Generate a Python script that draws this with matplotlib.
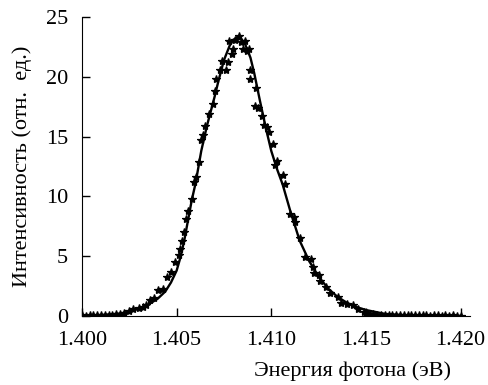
import numpy as np
import matplotlib
matplotlib.use("Agg")
import matplotlib.pyplot as plt

# fitted curve
fit_x = [1.4000, 1.4010, 1.4020, 1.4025, 1.4030, 1.4035, 1.4040, 1.4044, 1.4047,
         1.4050, 1.4052, 1.4054, 1.4056, 1.4058, 1.4060, 1.4063, 1.4066, 1.4070,
         1.4072, 1.4075, 1.4078, 1.4080, 1.4082, 1.4084, 1.4086, 1.4089, 1.4091,
         1.4094, 1.4097, 1.4100, 1.4103, 1.4106, 1.4110, 1.4115, 1.4120, 1.4125,
         1.4130, 1.4135, 1.4140, 1.4145, 1.4150, 1.4160, 1.4170, 1.4180, 1.4200]
fit_y = [0.02, 0.08, 0.20, 0.36, 0.60, 0.95, 1.45, 2.05, 2.80,
         3.80, 4.90, 6.30, 8.00, 9.70, 11.10, 13.80, 15.90, 18.30,
         19.60, 21.40, 22.60, 23.10, 23.30, 23.20, 22.80, 21.60, 20.30,
         18.00, 15.80, 13.80, 12.30, 11.00, 8.80, 6.30, 4.60, 3.30,
         2.30, 1.60, 1.10, 0.75, 0.50, 0.18, 0.07, 0.03, 0.01]

# measured points
dat_x = [1.4000, 1.4002, 1.4004, 1.4006, 1.4008, 1.4010, 1.4012, 1.4014, 1.4016,
         1.4018, 1.4020, 1.4022, 1.4025, 1.4027, 1.4030, 1.4032, 1.4034, 1.4036,
         1.4038, 1.4040, 1.4043, 1.4045, 1.4047, 1.4049, 1.4051, 1.4052, 1.4053,
         1.4054, 1.4055, 1.4056, 1.4058, 1.4059, 1.4060, 1.4062, 1.4063, 1.4064,
         1.4065, 1.4067, 1.4069, 1.4070, 1.4071, 1.4073, 1.4074, 1.4076, 1.4077,
         1.40775, 1.4079, 1.4080, 1.4081, 1.4083, 1.4084, 1.4085, 1.4086, 1.4087,
         1.4088, 1.40885, 1.4089, 1.40915, 1.4092, 1.4093, 1.4095, 1.4096, 1.4098,
         1.4099, 1.4101, 1.4102, 1.4103, 1.4106, 1.4107, 1.4110, 1.4112,
         1.41125, 1.4115, 1.4118, 1.4121, 1.4122, 1.41225, 1.4125, 1.4126, 1.4129,
         1.4131, 1.4135, 1.4137, 1.4140, 1.4143, 1.4146, 1.4149, 1.4150, 1.4152,
         1.4154, 1.4156, 1.4158, 1.4160, 1.4162, 1.4164, 1.4166, 1.4168, 1.4170,
         1.4172, 1.4174, 1.4176, 1.4178, 1.4180, 1.4182, 1.4184, 1.4186, 1.4188,
         1.4190, 1.4192, 1.4194, 1.4196, 1.4198, 1.4200]
dat_y = [0.05, 0.04, 0.06, 0.05, 0.08, 0.07, 0.10, 0.12, 0.10,
         0.15, 0.20, 0.25, 0.45, 0.55, 0.65, 0.78, 0.90, 1.33,
         1.5, 2.17, 2.3, 3.3, 3.7, 4.5, 5.1, 5.6, 6.3,
         7.0, 8.1, 8.8, 9.8, 11.2, 11.6, 12.9, 14.7, 15.1,
         15.9, 16.9, 17.7, 18.8, 19.8, 20.6, 21.3, 20.6, 21.2,
         23.0, 21.9, 22.3, 23.1, 23.4, 22.9, 22.3, 23.0, 22.2,
         22.3, 20.6, 19.8, 17.6, 19.1, 17.4, 16.75, 16.0, 15.8,
         15.4, 14.4, 12.6, 13.0, 11.75, 11.06, 8.56, 8.3,
         7.9, 6.5, 4.9, 4.8, 4.1, 3.6, 3.4, 2.9, 2.4,
         1.9, 1.6, 1.05, 1.0, 0.92, 0.55, 0.36, 0.22, 0.18,
         0.15, 0.12, 0.10, 0.12, 0.08, 0.10, 0.07, 0.09, 0.06,
         0.08, 0.05, 0.07, 0.06, 0.05, 0.06, 0.04, 0.05, 0.06,
         0.04, 0.05, 0.03, 0.05, 0.04, 0.04]

xticks = [1.400, 1.405, 1.410, 1.415, 1.420]
yticks = [0, 5, 10, 15, 20, 25]

plt.rcParams['font.family'] = ['Liberation Serif', 'DejaVu Serif']
plt.rcParams['font.size'] = 16

fig = plt.figure(figsize=(4.89, 3.85), dpi=100)
ax = fig.add_axes([0.1677, 0.1792, 0.7935, 0.7766])

ax.plot(dat_x, dat_y, '*', color='black', markersize=6, markeredgewidth=0.9)
ax.plot(fit_x, fit_y, '-', color='black', linewidth=1.7)

ax.set_xlim(1.400, 1.4205)
ax.set_ylim(0, 25)
ax.set_xticks(xticks)
ax.set_xticklabels(['%.3f' % t for t in xticks])
ax.set_yticks(yticks)
ax.spines['top'].set_visible(False)
ax.spines['right'].set_visible(False)
ax.tick_params(direction='in', length=6, width=1)
ax.tick_params(axis='x', pad=11)
ax.tick_params(axis='y', pad=10)

ax.set_xlabel('Энергия фотона (эВ)')
ax.xaxis.set_label_coords(0.696, -0.15)
ax.set_ylabel('Интенсивность (отн.  ед.)')
ax.yaxis.set_label_coords(-0.13, 0.5)

fig.savefig('out.png', dpi=100)
